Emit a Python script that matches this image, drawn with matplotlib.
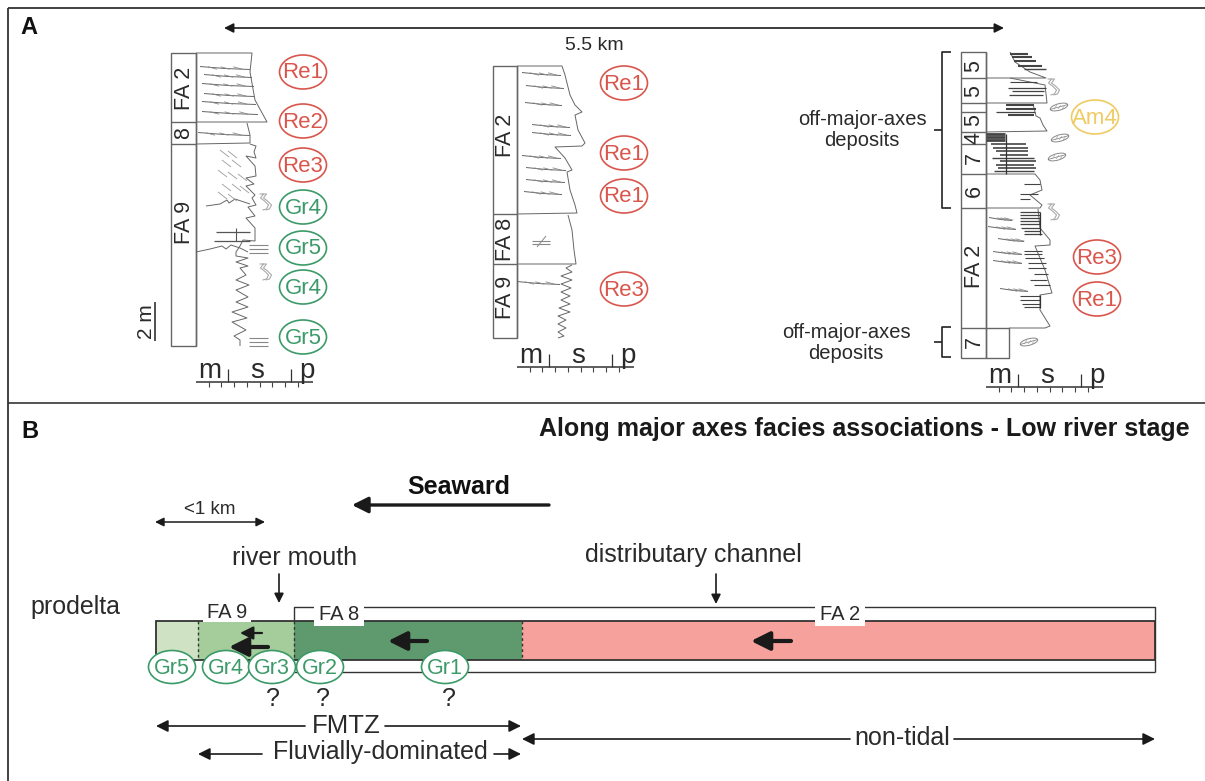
# -*- coding: utf-8 -*-
import matplotlib
matplotlib.use("Agg")
import matplotlib.pyplot as plt
from matplotlib.patches import Ellipse, Rectangle

plt.rcParams['font.family'] = ['Liberation Sans', 'DejaVu Sans']

RED = '#d9564c'
GREEN = '#3c9a68'
YELLOW = '#efcb62'
DARK = '#2a2a2a'
GREY = '#666666'

# columns in panel A: x0, x1, boundaries, labels
col1_x = [171, 196]
col1_y = [53, 122, 144, 346]
col1_labels = ['FA 2', '8', 'FA 9']
col1_label_y = [88, 133, 222]
col2_x = [493, 517]
col2_y = [66, 214, 264, 338]
col2_labels = ['FA 2', 'FA 8', 'FA 9']
col2_label_y = [135, 239, 297]
col3_x = [961, 986]
col3_y = [52, 78, 103, 112, 132, 144, 174, 208, 328, 358]
col3_labels = ['5', '5', '', '5', '4', '7', '6', 'FA 2', '7']
col3_label_y = [66, 91, 107, 120, 138, 158, 191, 266, 342]

# profile outlines
col1_prof_a = [(196, 53), (252, 53), (250, 72), (255, 100), (267, 122), (196, 122)]
col1_prof_b = [(247, 123), (250, 135), (250, 143), (196, 144)]
col1_prof_c = [(250, 144), (256, 146), (254, 152), (256, 158), (246, 156), (255, 166),
               (256, 176), (246, 178), (254, 184), (246, 186), (255, 195), (252, 198), (256, 205), (248, 207),
               (255, 216), (246, 218), (255, 228), (255, 241), (243, 240), (240, 246), (236, 252), (236, 256),
               (248, 258), (236, 262), (248, 266), (240, 268), (246, 275), (236, 280), (249, 285), (236, 290),
               (248, 297), (236, 302), (248, 307), (232, 312), (247, 318), (232, 322), (246, 330), (234, 336),
               (240, 340), (240, 346)]
col1_prof_d = [(196, 252), (210, 249), (222, 246), (226, 249), (231, 245), (240, 248), (248, 252)]
col1_prof_e = [(206, 206), (220, 204), (227, 200), (229, 203), (235, 199), (250, 204)]
col2_prof_a = [(517, 66), (562, 66), (565, 75), (570, 95), (575, 105), (582, 112), (575, 115), (578, 130),
               (585, 143), (582, 146), (555, 147), (565, 158), (572, 170), (567, 172), (570, 190), (575, 205),
               (577, 213), (517, 214)]
col2_prof_b = [(568, 215), (572, 230), (574, 250), (576, 264), (517, 264)]
col2_prof_c = [(572, 265), (566, 268), (572, 272), (561, 276), (572, 280), (561, 284), (571, 288), (561, 292),
               (570, 296), (561, 300), (570, 304), (559, 308), (570, 312), (558, 316), (566, 320), (558, 324),
               (566, 328), (558, 332), (564, 336), (558, 338)]
col3_prof_a = [(1010, 52), (1015, 62), (1030, 72), (1046, 78), (986, 78)]
col3_prof_b = [(1010, 78), (1045, 85), (1047, 103), (986, 103)]
col3_prof_c = [(1033, 104), (1036, 116), (1040, 118), (1043, 125), (1047, 131), (986, 132)]
col3_prof_d = [(986, 174), (1035, 174), (1040, 180), (1042, 190), (1030, 195), (1042, 205), (1040, 208), (986, 208)]
col3_prof_e = [(1038, 209), (1040, 228), (1050, 240), (1050, 245), (1035, 246), (1045, 270), (1052, 293), (1040, 295),
               (1040, 310), (1050, 326), (1045, 328), (1009, 328)]

# ripple lines: x0, x1, y
col1_ripples = [(200, 250, 68), (204, 252, 76), (202, 254, 85), (204, 254, 95), (202, 256, 103), (202, 258, 113),
                (198, 250, 134)]
col2_ripples = [(522, 561, 74), (526, 564, 87), (525, 562, 104), (532, 570, 126), (532, 571, 134), (522, 561, 157),
                (526, 566, 169), (526, 565, 181), (524, 562, 193), (517, 560, 283)]
col3_ripples = [(989, 1012, 219), (988, 1016, 228), (998, 1024, 240), (993, 1022, 253), (993, 1022, 262),
                (1000, 1028, 290)]

# oblique cross-strata in col 1: x, y
col1_oblique = [(220, 150), (228, 151), (222, 160), (232, 160), (218, 170), (228, 172), (238, 174), (222, 184),
                (232, 184), (240, 186), (218, 192), (228, 194)]

# horizontal bed lines in col 3: x0, x1, y, width
col3_beds = [(1010, 1028, 54, 1.5), (1012, 1032, 57, 1.5), (1014, 1036, 61, 1.5), (1018, 1042, 66, 1.5),
             (1024, 1046, 69, 1.0), (1010, 1037, 82, 0.8), (1008, 1046, 88, 0.9), (1012, 1044, 91, 0.9),
             (1009, 1043, 95, 0.9), (1006, 1034, 105, 1.5), (1006, 1036, 109, 1.5), (996, 1035, 112, 0.9),
             (1008, 1034, 115, 1.5), (986, 1005, 134, 2.0), (986, 1005, 137, 2.0), (986, 1005, 140, 2.0),
             (991, 1026, 144, 1.2), (993, 1028, 148, 1.2), (996, 1028, 151, 1.2), (1000, 1028, 155, 1.2),
             (992, 1034, 158, 1.0), (1000, 1036, 161, 1.2), (996, 1034, 165, 1.2), (998, 1036, 168, 1.2),
             (994, 1034, 171, 1.0),
             (1024, 1040, 184, 0.8), (1020, 1038, 194, 0.8), (1020, 1030, 199, 0.8),
             (1020, 1040, 212, 0.9), (1020, 1040, 215, 0.9), (1020, 1040, 218, 0.9), (1020, 1040, 221, 0.9),
             (1020, 1040, 224, 0.9), (1021, 1040, 228, 0.9), (1024, 1040, 231, 0.9), (1024, 1042, 234, 0.9),
             (1024, 1042, 251, 0.8), (1024, 1042, 254, 0.8), (1025, 1044, 258, 0.8), (1028, 1046, 263, 0.8),
             (1028, 1046, 268, 0.8), (1034, 1048, 274, 0.8), (1030, 1047, 280, 0.8), (1034, 1050, 285, 0.8),
             (1020, 1040, 296, 0.8), (1020, 1040, 300, 0.8), (1022, 1040, 304, 0.8), (1024, 1040, 307, 0.8)]
col3_bed_dark = [(1006, 1006, 134, 174), (1040, 1040, 295, 308), (1040, 1040, 212, 235)]

# symbols
wavy_pos = [(265, 202), (265, 272), (1053, 87), (1053, 212)]
wavy_shape = [(-4, -8), (0, -8), (-3, -4), (1, -1), (5, 3), (3, 7), (-1, 8)]
plant_pos = [(1059, 107), (1060, 138), (1057, 157), (1029, 342)]
lam_col1 = [245, 249, 253, 338, 342, 346]

# lithology labels
ellipses_a = [('Re1', 303, 72, RED), ('Re2', 303, 121, RED), ('Re3', 303, 165, RED), ('Gr4', 303, 207, GREEN),
              ('Gr5', 303, 248, GREEN), ('Gr4', 303, 287, GREEN), ('Gr5', 303, 337, GREEN),
              ('Re1', 624, 83, RED), ('Re1', 624, 153, RED), ('Re1', 624, 196, RED), ('Re3', 624, 289, RED),
              ('Am4', 1095, 117, YELLOW), ('Re3', 1097, 257, RED), ('Re1', 1097, 299, RED)]
ellipses_b = [('Gr5', 172, 667), ('Gr4', 226, 667), ('Gr3', 272, 667), ('Gr2', 320, 667), ('Gr1', 445, 667)]
question_x = [273, 323, 449]

# scale bars under the columns
scale_x0 = [196, 517, 986]
scale_y = [382, 367, 387]
scale_step = 12.7

# panel B bar
bar_edges = [156, 198, 294, 522, 1155]
bar_colors = ['#cfe3c4', '#a5cc9b', '#5f9a6e', '#f7a19c']
flow_arrows = [(268, 229, 647, 3.0), (262, 240, 633, 1.6), (427, 388, 641, 3.0), (791, 751, 641, 3.0)]

fig = plt.figure(figsize=(12.05, 7.81), dpi=100)
ax = fig.add_axes([0, 0, 1, 1])
ax.set_xlim(0, 1205)
ax.set_ylim(781, 0)
ax.axis('off')


def line(xs, ys, lw=0.8, c=GREY, **kw):
    ax.plot(xs, ys, lw=lw, color=c, solid_capstyle='butt', **kw)


def poly(pts, lw=0.7, c=GREY):
    line([p[0] for p in pts], [p[1] for p in pts], lw=lw, c=c)


def arrow(x0, y0, x1, y1, both=False, lw=1.2, ms=14, c='#1a1a1a'):
    ax.annotate('', xy=(x1, y1), xytext=(x0, y0),
                arrowprops=dict(arrowstyle='<|-|>' if both else '-|>', lw=lw, color=c,
                                mutation_scale=ms, shrinkA=0, shrinkB=0))


def column(xs, ys, labels, label_y, fs=15.5):
    ax.add_patch(Rectangle((xs[0], ys[0]), xs[1] - xs[0], ys[-1] - ys[0], fill=False, ec=GREY, lw=1.0))
    line([xs[1], xs[1]], [ys[0], ys[-1]], lw=1.0)
    for y in ys[1:-1]:
        line([xs[0], xs[1]], [y, y], lw=1.0)
    for lab, y in zip(labels, label_y):
        ax.text((xs[0] + xs[1]) / 2 + 0.5, y, lab, rotation=90, ha='center', va='center',
                fontsize=fs, color=DARK)


def ripple(x0, x1, y):
    line([x0, (x0 + x1) / 2, x1], [y - 1.5, y + 0.5, y + 1.5], lw=0.7, c='#666666')
    for i in range(3):
        tx = x0 + 8 + i * (x1 - x0 - 12) / 3
        line([tx, tx + 9], [y - 1.2, y + 1.2], lw=0.6, c='#888888')


def scale(x0, y):
    line([x0, x0 + 9 * scale_step + 3], [y, y], lw=1.1, c='#333333')
    for i in range(1, 9):
        tx = x0 + i * scale_step
        line([tx, tx], [y, y + 5], lw=0.8, c='#444444')
    line([x0 + 32, x0 + 32], [y - 13, y], lw=0.9, c='#333333')
    line([x0 + 95, x0 + 95], [y - 13, y], lw=0.9, c='#333333')
    ax.text(x0 + 14, y - 4, 'm', fontsize=20, ha='center', va='baseline', color=DARK)
    ax.text(x0 + 61, y - 4, 's', fontsize=20, ha='center', va='baseline', color=DARK)
    ax.text(x0 + 111, y - 4, 'p', fontsize=20, ha='center', va='baseline', color=DARK)


# frames: top rule, divider, left rule
line([8, 1205], [8, 8], lw=1.3, c='#333333')
line([8, 1205], [403, 403], lw=1.3, c='#444444')
line([8, 8], [8, 781], lw=1.3, c='#333333')
ax.text(20, 28, 'A', fontsize=17, fontweight='bold', ha='left', va='center', color='#111111')
ax.text(21, 431, 'B', fontsize=17, fontweight='bold', ha='left', va='center', color='#111111')

# panel A
arrow(224, 28, 1004, 28, both=True, lw=1.2, ms=14)
ax.text(594, 45, '5.5 km', fontsize=14, ha='center', va='center', color=DARK)

column(col1_x, col1_y, col1_labels, col1_label_y)
column(col2_x, col2_y, col2_labels, col2_label_y)
column(col3_x, col3_y, col3_labels, col3_label_y)
line([986, 1009, 1009, 986], [328, 328, 358, 358], lw=1.0)

for p in (col1_prof_a, col1_prof_b, col1_prof_c, col1_prof_d, col1_prof_e, col2_prof_a, col2_prof_b, col2_prof_c,
          col3_prof_a, col3_prof_b, col3_prof_c, col3_prof_d, col3_prof_e):
    poly(p)
for r in col1_ripples + col2_ripples + col3_ripples:
    ripple(*r)
for x, y in col1_oblique:
    line([x, x + 9], [y, y + 7], lw=0.6, c='#999999')
# coarse beds in the FA 9 part of column 1
line([216, 250], [232, 232], lw=0.9, c='#555555')
line([214, 250], [241, 241], lw=0.9, c='#555555')
line([236, 236], [228, 241], lw=0.8, c='#555555')
for x0, x1, y, w in col3_beds:
    line([x0, x1], [y, y], lw=w, c='#444444')
for x0, x1, y0, y1 in col3_bed_dark:
    line([x0, x1], [y0, y1], lw=0.9, c='#333333')

# parallel lamination, wavy and plant symbols
for y in lam_col1:
    line([249, 268], [y, y], lw=0.8, c='#888888')
line([532, 550], [241, 241], lw=0.8, c='#888888')
line([532, 550], [244, 244], lw=0.8, c='#888888')
line([537, 546], [247, 236], lw=0.7, c='#888888')
for x0, y0 in wavy_pos:
    for off in (-1.5, 1.5):
        line([x0 + p[0] + off for p in wavy_shape], [y0 + p[1] for p in wavy_shape], lw=0.8, c='#aaaaaa')
for x0, y0 in plant_pos:
    ax.add_patch(Ellipse((x0, y0), 18, 6.5, angle=-15, fill=False, ec='#888888', lw=0.7))
    line([x0 - 9, x0 + 9], [y0 + 2.5, y0 - 2.5], lw=0.5, c='#777777')
    for d in (-5, -1, 3):
        line([x0 + d, x0 + d + 3], [y0 + 2, y0 - 2], lw=0.4, c='#999999')

# 2 m scale
line([155, 155], [302, 341], lw=1.1, c='#222222')
ax.text(146, 322, '2 m', rotation=90, fontsize=15, ha='center', va='center', color=DARK)

# off-major-axes brackets
line([951, 942, 942, 951], [52, 52, 208, 208], lw=1.2, c='#222222')
line([934, 942], [130, 130], lw=1.2, c='#222222')
line([951, 942, 942, 951], [327, 327, 357, 357], lw=1.2, c='#222222')
line([934, 942], [342, 342], lw=1.2, c='#222222')
ax.text(862, 130, 'off-major-axes\ndeposits', fontsize=14.5, ha='center', va='center', color=DARK, linespacing=1.1)
ax.text(846, 343, 'off-major-axes\ndeposits', fontsize=14.5, ha='center', va='center', color=DARK, linespacing=1.1)

for x0, y in zip(scale_x0, scale_y):
    scale(x0, y)

for lab, x, y, c in ellipses_a:
    ax.add_patch(Ellipse((x, y), 47, 34, fc='white', ec=c, lw=1.2, zorder=3))
    ax.text(x, y + 1, lab, fontsize=16, ha='center', va='center', color=c, zorder=4)

# panel B
ax.text(1190, 429, 'Along major axes facies associations - Low river stage', fontsize=18, fontweight='bold',
        ha='right', va='center', color='#1a1a1a')
arrow(549, 505, 352, 505, lw=2.4, ms=24)
ax.text(459, 487, 'Seaward', fontsize=18, fontweight='bold', ha='center', va='center', color='#111111')
arrow(155, 522, 265, 522, both=True, lw=1.1, ms=13)
ax.text(210, 509, '<1 km', fontsize=13.5, ha='center', va='center', color=DARK)
ax.text(295, 558, 'river mouth', fontsize=18, ha='center', va='center', color=DARK)
arrow(279, 574, 279, 603, lw=1.2, ms=14)
ax.text(693, 555, 'distributary channel', fontsize=18, ha='center', va='center', color=DARK)
arrow(716, 574, 716, 604, lw=1.2, ms=14)
ax.text(75, 607, 'prodelta', fontsize=18, ha='center', va='center', color=DARK)

line([294, 294, 1155, 1155], [620, 607, 607, 672], lw=1.0, c='#333333')
line([294, 1155], [672, 672], lw=1.0, c='#333333')
for x0, x1, c in zip(bar_edges[:-1], bar_edges[1:], bar_colors):
    ax.add_patch(Rectangle((x0, 620.5), x1 - x0, 39, fc=c, ec='none'))
ax.add_patch(Rectangle((156, 620.5), 999, 39, fill=False, ec='#333333', lw=1.3))
for x in bar_edges[1:4]:
    line([x, x], [620.5, 659.5], lw=1.0, c='#333333', linestyle=(0, (2, 2)))
for lab, x, y, w in [('FA 9', 227, 613, 48), ('FA 8', 339, 615, 50), ('FA 2', 840, 615, 50)]:
    ax.add_patch(Rectangle((x - w / 2, y - 11), w, 22 if lab != 'FA 9' else 20, fc='white', ec='none', zorder=2))
    ax.text(x, y, lab, fontsize=14.5, ha='center', va='center', color=DARK, zorder=3)

for x0, x1, y, w in flow_arrows:
    arrow(x0, y, x1, y, lw=w, ms=10 + w * 6)

for lab, x, y in ellipses_b:
    ax.add_patch(Ellipse((x, y), 47, 33, fc='white', ec=GREEN, lw=1.2, zorder=3))
    ax.text(x, y + 1, lab, fontsize=15.5, ha='center', va='center', color=GREEN, zorder=4)
for x in question_x:
    ax.text(x, 699, '?', fontsize=18, ha='center', va='center', color=DARK)

arrow(305, 726, 156, 726, lw=1.2, ms=18)
arrow(385, 726, 521, 726, lw=1.2, ms=18)
ax.text(346, 726, 'FMTZ', fontsize=18.5, ha='center', va='center', color=DARK)
arrow(262, 754, 198, 754, lw=1.2, ms=18)
arrow(494, 754, 521, 754, lw=1.2, ms=18)
ax.text(380, 752, 'Fluvially-dominated', fontsize=18, ha='center', va='center', color=DARK)
arrow(850, 739, 522, 739, lw=1.2, ms=18)
arrow(954, 739, 1155, 739, lw=1.2, ms=18)
ax.text(902, 738, 'non-tidal', fontsize=18, ha='center', va='center', color=DARK)

fig.savefig('out.png', dpi=100, facecolor='white')
